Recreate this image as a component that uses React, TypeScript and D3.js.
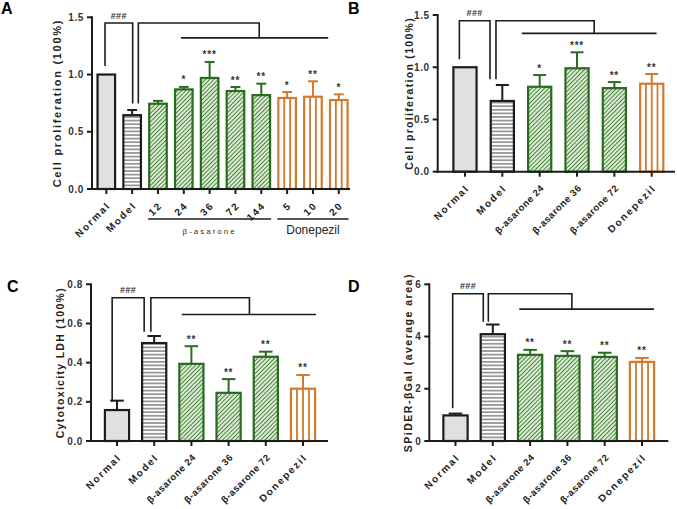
import React from "react";
import * as d3 from "d3";

const FONT = "'Liberation Sans', Arial, Helvetica, sans-serif";

// ---------- Panel A : cell proliferation, dose series ----------
const categoriesA = ["Normal", "Model", "12", "24", "36", "72", "144", "5", "10", "20"];
const groupsA = ["normal", "model", "beta", "beta", "beta", "beta", "beta", "don", "don", "don"];
const valuesA = [1.0, 0.645, 0.745, 0.87, 0.97, 0.856, 0.82, 0.795, 0.806, 0.777];
const errorsA = [0, 0.045, 0.025, 0.022, 0.14, 0.035, 0.1, 0.052, 0.135, 0.05];
const starsA = ["", "", "", "*", "***", "**", "**", "*", "**", "*"];
const ticksA = [0, 0.5, 1.0, 1.5];

// ---------- shared categories for B, C, D ----------
const categoriesBCD = ["Normal", "Model", "β-asarone 24", "β-asarone 36", "β-asarone 72", "Donepezil"];
const groupsBCD = ["normal", "model", "beta", "beta", "beta", "don"];

// ---------- Panel B : cell proliferation ----------
const valuesB = [1.0, 0.677, 0.813, 0.99, 0.8, 0.842];
const errorsB = [0, 0.153, 0.112, 0.153, 0.058, 0.093];
const starsB = ["", "", "*", "***", "**", "**"];
const ticksB = [0, 0.5, 1.0, 1.5];

// ---------- Panel C : LDH cytotoxicity ----------
const valuesC = [0.158, 0.5, 0.394, 0.246, 0.43, 0.267];
const errorsC = [0.048, 0.036, 0.09, 0.07, 0.026, 0.07];
const starsC = ["", "", "**", "**", "**", "**"];
const ticksC = [0, 0.2, 0.4, 0.6, 0.8];

// ---------- Panel D : SPiDER-βGal ----------
const valuesD = [0.98, 4.09, 3.3, 3.26, 3.22, 3.03];
const errorsD = [0.07, 0.37, 0.19, 0.18, 0.16, 0.15];
const starsD = ["", "", "**", "**", "**", "**"];
const ticksD = [0, 2, 4, 6];

// significance brackets (category index units, value units)
const bracketA = { left: -0.05, leftEnd: 1.074, mid: 1.02, midEnd: 0.748, right: 1.24, rightEnd: 0.748, top: 1.45, join: 5.92, lineY: 1.32, lineFrom: 2.89, lineTo: 8.59 };
const bracketB = { left: -0.15, leftEnd: 1.076, mid: 0.67, midEnd: 0.884, right: 0.83, rightEnd: 0.884, top: 1.445, join: 3.46, lineY: 1.324, lineFrom: 1.52, lineTo: 5.13 };
const bracketC = { left: -0.13, leftEnd: 0.2, mid: 0.73, midEnd: 0.558, right: 0.91, rightEnd: 0.558, top: 0.731, join: 3.56, lineY: 0.646, lineFrom: 1.74, lineTo: 5.35 };
const bracketD = { left: -0.075, leftEnd: 1.25, mid: 0.745, midEnd: 4.57, right: 0.88, rightEnd: 4.57, top: 5.64, join: 3.12, lineY: 5.05, lineFrom: 1.71, lineTo: 5.32 };

const C = {
  ink: "#1c1c1c",
  normalFill: "#e0e0e0",
  green: "#2a6b22",
  greenFill: "#dcecd3",
  greenHatch: "#3d7a33",
  orange: "#d2792b",
  modelLine: "#555",
};

type Bracket = typeof bracketA;

interface PanelSpec {
  letter: string;
  letterX: number;
  letterY: number;
  cats: string[];
  groups: string[];
  vals: number[];
  errs: number[];
  stars: string[];
  ticks: number[];
  fmt: (v: number) => string;
  yLabel: string;
  yLabelSize: number;
  yLabelLs: number;
  yLabelX: number;
  axisX0: number;
  axisX1: number;
  yTop: number;
  yBottom: number;
  bandStart: number;
  bandEnd: number;
  padding: number;
  bracket: Bracket;
  xLabelSize: number;
  subgroups?: { label: string; from: number; to: number; kind: string }[];
}

const strokeOf = (g: string) => (g === "beta" ? C.green : g === "don" ? C.orange : C.ink);
const fillOf = (g: string) =>
  g === "normal" ? C.normalFill : g === "model" ? "url(#modelPat)" : g === "beta" ? "url(#betaPat)" : "#fff";

function Panel({ s }: { s: PanelSpec }) {
  const x = d3
    .scaleBand<string>()
    .domain(s.cats)
    .range([s.bandStart, s.bandEnd])
    .paddingInner(s.padding)
    .paddingOuter(s.padding / 2);
  const bw = x.bandwidth();
  const step = x.step();
  const y = d3.scaleLinear().domain([0, s.ticks[s.ticks.length - 1]]).range([s.yBottom, s.yTop]);
  const cx = (i: number) => (x(s.cats[0]) as number) + bw / 2 + i * step;
  const b = s.bracket;
  const tf = s.fmt;

  return (
    <g fontFamily={FONT}>
      <text x={s.letterX} y={s.letterY} fontSize={16} fontWeight="bold" fill="#000">
        {s.letter}
      </text>

      {/* bars */}
      {s.cats.map((c, i) => {
        const g = s.groups[i];
        const x0 = x(c) as number;
        const yv = y(s.vals[i]);
        const h = s.yBottom - yv;
        const sections = Math.round((bw + 2) / 6.3);
        return (
          <g key={c}>
            <rect x={x0} y={yv} width={bw} height={h} fill={fillOf(g)} stroke="none" />
            {g === "don" &&
              d3.range(1, sections).map((k) => (
                <line
                  key={k}
                  x1={x0 + (bw * k) / sections}
                  x2={x0 + (bw * k) / sections}
                  y1={yv}
                  y2={s.yBottom}
                  stroke={C.orange}
                  strokeWidth={1.8}
                />
              ))}
            <rect x={x0} y={yv} width={bw} height={h} fill="none" stroke={strokeOf(g)} strokeWidth={2.2} />
            {s.errs[i] > 0 && (
              <g stroke={strokeOf(g)} strokeWidth={2}>
                <line x1={x0 + bw / 2} x2={x0 + bw / 2} y1={yv} y2={y(s.vals[i] + s.errs[i])} />
                <line
                  x1={x0 + bw / 2 - bw * 0.28}
                  x2={x0 + bw / 2 + bw * 0.28}
                  y1={y(s.vals[i] + s.errs[i])}
                  y2={y(s.vals[i] + s.errs[i])}
                />
              </g>
            )}
            {s.stars[i] && (
              <text
                x={x0 + bw / 2}
                y={y(s.vals[i] + s.errs[i]) - 3.5}
                textAnchor="middle"
                fontSize={10}
                fontWeight="bold"
                letterSpacing={0.8}
                fill="#333"
              >
                {s.stars[i]}
              </text>
            )}
          </g>
        );
      })}

      {/* axes */}
      <g stroke={C.ink} strokeWidth={2} fill="none">
        <line x1={s.axisX0} x2={s.axisX0} y1={s.yTop - 1} y2={s.yBottom + 1} />
        <line x1={s.axisX0 - 1} x2={s.axisX1} y1={s.yBottom} y2={s.yBottom} />
        {s.ticks.map((t) => (
          <line key={t} x1={s.axisX0 - 5} x2={s.axisX0} y1={y(t)} y2={y(t)} />
        ))}
        {s.cats.map((c, i) => (
          <line key={c} x1={cx(i)} x2={cx(i)} y1={s.yBottom} y2={s.yBottom + 5} />
        ))}
      </g>
      {s.ticks.map((t) => (
        <text
          key={t}
          x={s.axisX0 - 8}
          y={y(t)}
          dy="0.35em"
          textAnchor="end"
          fontSize={10}
          fontWeight="bold"
          letterSpacing={0.6}
          fill="#333"
        >
          {tf(t)}
        </text>
      ))}
      <text
        transform={`translate(${s.yLabelX},${(s.yTop + s.yBottom) / 2}) rotate(-90)`}
        textAnchor="middle"
        fontSize={s.yLabelSize}
        fontWeight="bold"
        letterSpacing={s.yLabelLs}
        fill="#222"
      >
        {s.yLabel}
      </text>
      {s.cats.map((c, i) => {
        const beta = c.startsWith("β");
        return (
          <text
            key={c}
            transform={`translate(${cx(i) + 5},${s.yBottom + 17}) rotate(-45)`}
            textAnchor="end"
            fontSize={beta ? s.xLabelSize : s.xLabelSize + 0.5}
            fontWeight="bold"
            letterSpacing={beta ? 0.5 : 1.8}
            fill="#222"
          >
            {c}
          </text>
        );
      })}

      {/* sub groups (panel A) */}
      {s.subgroups &&
        s.subgroups.map((sg) => {
          const xa = (x(s.cats[sg.from]) as number) - 1;
          const xb = (x(s.cats[sg.to]) as number) + bw + 1;
          const mid = (xa + xb) / 2;
          return (
            <g key={sg.label}>
              <line x1={xa} x2={xb} y1={s.yBottom + 30} y2={s.yBottom + 30} stroke={C.ink} strokeWidth={1.6} />
              {sg.kind === "spaced" ? (
                <text x={mid} y={s.yBottom + 45} textAnchor="middle" fontSize={8} letterSpacing={2} fill="#333">
                  {sg.label}
                </text>
              ) : (
                <text x={mid} y={s.yBottom + 45} textAnchor="middle" fontSize={12} fill="#222">
                  {sg.label}
                </text>
              )}
            </g>
          );
        })}

      {/* brackets */}
      <g stroke={C.ink} strokeWidth={1.6} fill="none">
        <path d={`M${cx(b.left)},${y(b.leftEnd)}V${y(b.top)}H${cx(b.mid)}V${y(b.midEnd)}`} />
        <path d={`M${cx(b.right)},${y(b.rightEnd)}V${y(b.top)}H${cx(b.join)}V${y(b.lineY)}`} />
        <path d={`M${cx(b.lineFrom)},${y(b.lineY)}H${cx(b.lineTo)}`} />
      </g>
      <text
        x={(cx(b.left) + cx(b.mid)) / 2}
        y={y(b.top) - 4.5}
        textAnchor="middle"
        fontSize={9}
        fontWeight="bold"
        letterSpacing={0.4}
        fill="#333"
      >
        ###
      </text>
    </g>
  );
}

const f1 = d3.format(".1f");
const f0 = d3.format("d");

const panels: PanelSpec[] = [
  {
    letter: "A", letterX: 1, letterY: 14,
    cats: categoriesA, groups: groupsA, vals: valuesA, errs: errorsA, stars: starsA,
    ticks: ticksA, fmt: f1,
    yLabel: "Cell proliferation (100%)", yLabelSize: 11, yLabelLs: 1.7, yLabelX: 61,
    axisX0: 92, axisX1: 350, yTop: 17.3, yBottom: 189, bandStart: 93.4, bandEnd: 351.7, padding: 0.32,
    bracket: bracketA, xLabelSize: 9.5,
    subgroups: [
      { label: "β-asarone", from: 2, to: 6, kind: "spaced" },
      { label: "Donepezil", from: 7, to: 9, kind: "plain" },
    ],
  },
  {
    letter: "B", letterX: 348, letterY: 14,
    cats: categoriesBCD, groups: groupsBCD, vals: valuesB, errs: errorsB, stars: starsB,
    ticks: ticksB, fmt: f1,
    yLabel: "Cell proliferation (100%)", yLabelSize: 10.5, yLabelLs: 1.3, yLabelX: 412.5,
    axisX0: 437.7, axisX1: 675, yTop: 15, yBottom: 171.7, bandStart: 446.3, bandEnd: 670.4, padding: 0.38,
    bracket: bracketB, xLabelSize: 9.5,
  },
  {
    letter: "C", letterX: 7, letterY: 292,
    cats: categoriesBCD, groups: groupsBCD, vals: valuesC, errs: errorsC, stars: starsC,
    ticks: ticksC, fmt: f1,
    yLabel: "Cytotoxicity LDH (100%)", yLabelSize: 10.5, yLabelLs: 1.3, yLabelX: 64,
    axisX0: 91, axisX1: 328, yTop: 284.3, yBottom: 441, bandStart: 98.4, bandEnd: 321.6, padding: 0.35,
    bracket: bracketC, xLabelSize: 9.5,
  },
  {
    letter: "D", letterX: 348, letterY: 292,
    cats: categoriesBCD, groups: groupsBCD, vals: valuesD, errs: errorsD, stars: starsD,
    ticks: ticksD, fmt: f0,
    yLabel: "SPiDER-βGal (average  area)", yLabelSize: 10.5, yLabelLs: 1.5, yLabelX: 412,
    axisX0: 429.3, axisX1: 668.3, yTop: 284.3, yBottom: 441, bandStart: 436.85, bandEnd: 660.65, padding: 0.35,
    bracket: bracketD, xLabelSize: 9.5,
  },
];

export default function App() {
  return (
    <svg
      width={677}
      height={509}
      viewBox="0 0 677 509"
      style={{ position: "absolute", left: 0, top: 0, background: "#fff" }}
    >
      <defs>
        <pattern id="modelPat" patternUnits="userSpaceOnUse" width={4} height={3.6}>
          <rect width={4} height={3.6} fill="#fff" />
          <line x1={0} x2={4} y1={1.8} y2={1.8} stroke={C.modelLine} strokeWidth={1.1} />
        </pattern>
        <pattern id="betaPat" patternUnits="userSpaceOnUse" width={3} height={3} patternTransform="rotate(45)">
          <rect width={3} height={3} fill={C.greenFill} />
          <line x1={0.5} x2={0.5} y1={0} y2={3} stroke={C.greenHatch} strokeWidth={0.9} />
        </pattern>
      </defs>
      <rect width={677} height={509} fill="#fff" />
      {panels.map((p) => (
        <Panel key={p.letter} s={p} />
      ))}
    </svg>
  );
}
